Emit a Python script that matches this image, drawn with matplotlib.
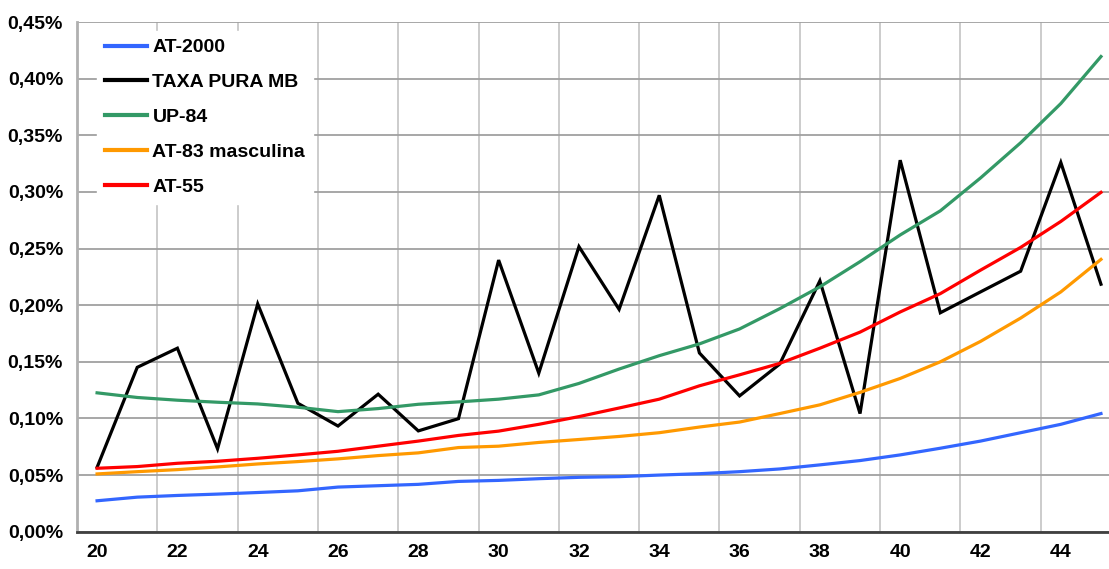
import matplotlib.pyplot as plt
from matplotlib.ticker import FuncFormatter, MultipleLocator, FixedLocator

plt.rcParams["font.family"] = ["Liberation Sans", "DejaVu Sans"]
plt.rcParams["font.weight"] = "bold"

ages = list(range(20, 46))

# values in percent
at2000 = [0.0273, 0.0305, 0.0320, 0.0332, 0.0346, 0.0361, 0.0394, 0.0406, 0.0418, 0.0444,
          0.0453, 0.0468, 0.0480, 0.0486, 0.0500, 0.0512, 0.0530, 0.0554, 0.0590, 0.0628,
          0.0678, 0.0737, 0.0800, 0.0874, 0.0948, 0.1043]
taxa_pura = [0.0568, 0.1451, 0.1620, 0.0732, 0.2011, 0.1134, 0.0933, 0.1214, 0.0890, 0.0998,
             0.2398, 0.1400, 0.2517, 0.1963, 0.2970, 0.1578, 0.1199, 0.1480, 0.2215, 0.1043,
             0.3280, 0.1933, 0.2117, 0.2300, 0.3260, 0.2185]
up84 = [0.1226, 0.1185, 0.1161, 0.1143, 0.1128, 0.1099, 0.1060, 0.1087, 0.1125, 0.1146,
        0.1170, 0.1208, 0.1309, 0.1436, 0.1554, 0.1658, 0.1790, 0.1969, 0.2162, 0.2384,
        0.2620, 0.2833, 0.3123, 0.3434, 0.3780, 0.4195]
at83 = [0.0510, 0.0530, 0.0548, 0.0572, 0.0598, 0.0619, 0.0643, 0.0672, 0.0696, 0.0743,
        0.0755, 0.0788, 0.0814, 0.0841, 0.0874, 0.0924, 0.0968, 0.1043, 0.1120, 0.1230,
        0.1353, 0.1500, 0.1680, 0.1886, 0.2117, 0.2404]
at55 = [0.0560, 0.0575, 0.0604, 0.0622, 0.0648, 0.0678, 0.0710, 0.0755, 0.0800, 0.0850,
        0.0888, 0.0948, 0.1016, 0.1092, 0.1170, 0.1288, 0.1385, 0.1486, 0.1620, 0.1762,
        0.1940, 0.2102, 0.2309, 0.2510, 0.2739, 0.2996]

series = [
    ("AT-2000", at2000, "#3366ff"),
    ("TAXA PURA MB", taxa_pura, "#000000"),
    ("UP-84", up84, "#339966"),
    ("AT-83 masculina", at83, "#ff9900"),
    ("AT-55", at55, "#ff0000"),
]

fig = plt.figure(figsize=(11.09, 5.69), dpi=100)
ax = fig.add_axes([77 / 1109, 1 - 531.7 / 569, 1 - 77 / 1109, (531.7 - 22) / 569])

for name, vals, color in series:
    ax.plot(ages, vals, color=color, lw=2.3, label=name, solid_joinstyle="miter")

ax.set_xlim(19.5, 45.2)
ax.set_ylim(0, 0.45)

ax.yaxis.set_major_locator(MultipleLocator(0.05))
ax.yaxis.set_major_formatter(FuncFormatter(lambda v, p: f"{v:.2f}%".replace(".", ",")))
ax.xaxis.set_major_locator(FixedLocator(list(range(20, 46, 2))))
ax.xaxis.set_minor_locator(FixedLocator([a + 1.5 for a in range(20, 44, 2)]))

ax.grid(axis="y", which="major", color="#a0a0a0", lw=1.3)
ax.grid(axis="x", which="minor", color="#c8c8c8", lw=1.3)
ax.set_axisbelow(True)

ax.tick_params(axis="both", which="both", length=0, labelsize=14)
ax.tick_params(axis="x", pad=9)
ax.tick_params(axis="y", pad=10)

ax.spines["top"].set_visible(False)
ax.spines["right"].set_visible(False)
ax.spines["left"].set_color("#b0b0b0")
ax.spines["left"].set_linewidth(2)
ax.spines["bottom"].set_color("#404040")
ax.spines["bottom"].set_linewidth(2)

leg = ax.legend(loc="upper left", bbox_to_anchor=(97 / 1109, 1 - 31 / 569),
                bbox_transform=fig.transFigure, borderaxespad=0,
                prop={"size": 14, "weight": "bold"}, handlelength=2.17,
                handletextpad=0.28, labelspacing=0.89, borderpad=0.4,
                fancybox=False, framealpha=1)
leg.get_frame().set_edgecolor("white")
leg.get_frame().set_facecolor("white")
for line in leg.get_lines():
    line.set_linewidth(3)

fig.savefig("out.png", dpi=100)
